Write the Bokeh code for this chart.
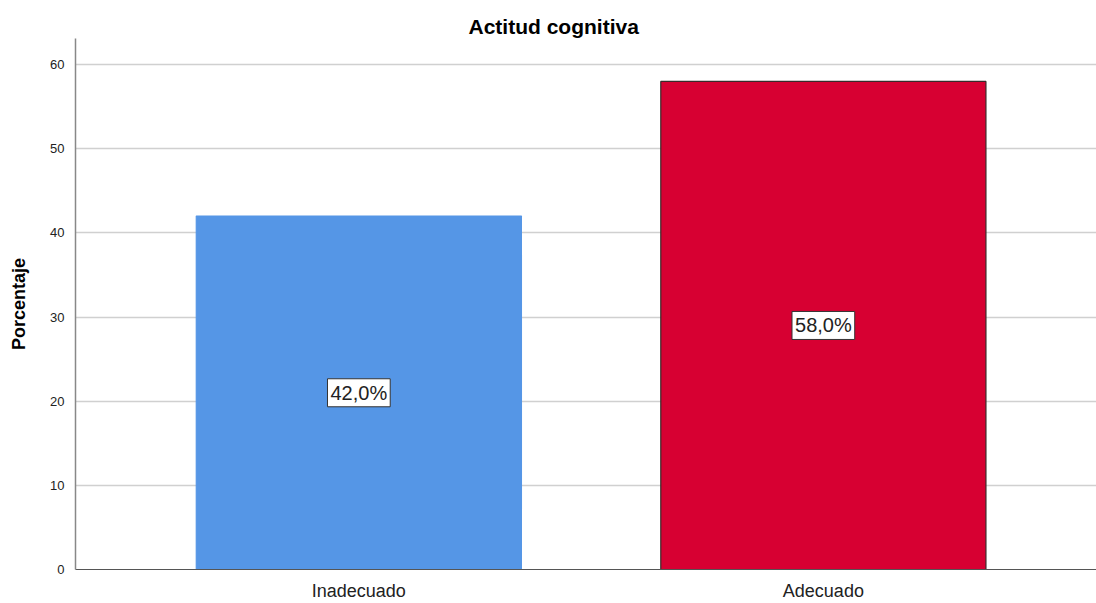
from bokeh.plotting import figure
from bokeh.models import Range1d, FixedTicker, ColumnDataSource, Label
from bokeh.embed import file_html
from bokeh.resources import INLINE

categories = ["Inadecuado", "Adecuado"]
percentages = [42.0, 58.0]
colors = ["#5596e6", "#d70032"]
outlines = ["#5596e6", "#3a2a2a"]
y_ticks = [0, 10, 20, 30, 40, 50, 60]

xs = [0.5 + i for i in range(len(categories))]
labels = [f"{v:.1f}%".replace(".", ",") for v in percentages]
src = ColumnDataSource(dict(x=xs, top=percentages, color=colors, line=outlines))

p = figure(width=1096, height=603, output_backend="svg", toolbar_location=None,
           x_range=Range1d(-0.11, 2.088), y_range=Range1d(0, 63.1),
           min_border_left=75, min_border_right=0, min_border_top=38, min_border_bottom=34,
           title="Actitud cognitiva")
p.title.align = "left"
p.title.offset = 393
p.title.text_font = "Liberation Sans"
p.title.text_font_size = "21px"
p.title.text_font_style = "bold"
p.title.text_color = "#000000"
p.title.standoff = 2

p.vbar(x="x", top="top", bottom=0, width=0.70, source=src,
       fill_color="color", line_color="line", line_width=1.2)

for x, v, lab in zip(xs, percentages, labels):
    p.add_layout(Label(x=x, y=v / 2, text=lab,
                       text_align="center", text_baseline="middle",
                       text_font="Liberation Sans", text_font_size="20px",
                       text_color="#222222",
                       background_fill_color="white", border_line_color="#333333",
                       border_line_width=1, padding=3))

p.xaxis.ticker = FixedTicker(ticks=xs)
p.xaxis.major_label_overrides = {x: c for x, c in zip(xs, categories)}
p.xaxis.major_label_text_font = "Liberation Sans"
p.xaxis.major_label_text_font_size = "18px"
p.xaxis.major_label_text_color = "#222222"
p.xaxis.major_label_standoff = 5
p.xaxis.major_tick_line_color = None
p.xaxis.minor_tick_line_color = None
p.xaxis.axis_line_color = "#555555"
p.xaxis.axis_line_width = 1.2

p.yaxis.ticker = FixedTicker(ticks=y_ticks)
p.yaxis.axis_label = "Porcentaje"
p.yaxis.axis_label_standoff = 18
p.yaxis.axis_label_text_font = "Liberation Sans"
p.yaxis.axis_label_text_font_size = "18px"
p.yaxis.axis_label_text_font_style = "bold"
p.yaxis.axis_label_text_color = "#000000"
p.yaxis.major_label_text_font = "Liberation Sans"
p.yaxis.major_label_text_font_size = "13px"
p.yaxis.major_label_text_color = "#222222"
p.yaxis.major_tick_line_color = None
p.yaxis.minor_tick_line_color = None
p.yaxis.axis_line_color = "#888888"
p.yaxis.axis_line_width = 1.5

p.xgrid.grid_line_color = None
p.ygrid.grid_line_color = "#d0d0d0"
p.ygrid.grid_line_width = 1.5
p.outline_line_color = None

open("out.html", "w").write(file_html(p, INLINE))
